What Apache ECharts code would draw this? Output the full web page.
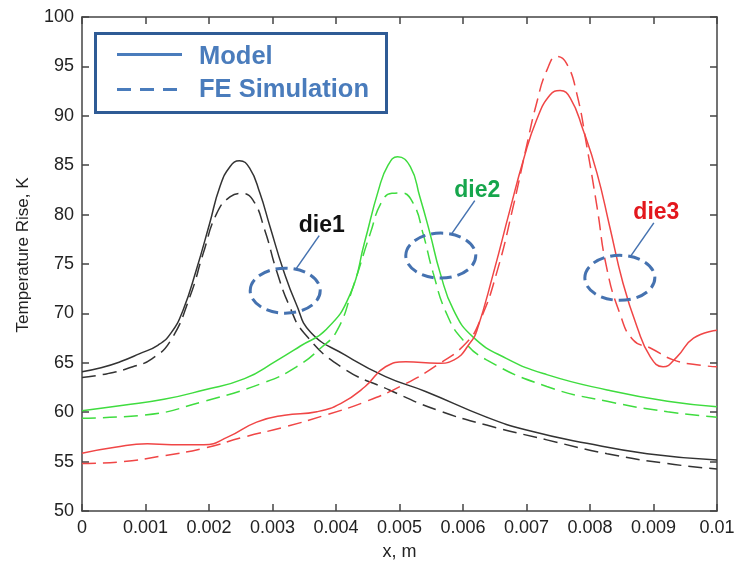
<!DOCTYPE html>
<html>
<head>
<meta charset="utf-8">
<script src="https://cdn.jsdelivr.net/npm/echarts@6/dist/echarts.min.js"></script>
<style>
  html, body { margin: 0; padding: 0; background: #fff; }
  #chart { width: 735px; height: 566px; }
</style>
</head>
<body>
<div id="chart"></div>
<script>
// Tick labels
const xTickLabels = ['0', '0.001', '0.002', '0.003', '0.004', '0.005', '0.006', '0.007', '0.008', '0.009', '0.01'];
const yTickLabels = ['50', '55', '60', '65', '70', '75', '80', '85', '90', '95', '100'];

// Temperature rise [x (m), K] — analytical model (solid) and FE simulation (dashed)
const die1Model = [
  [0, 64.1], [0.0003, 64.5], [0.0006, 65.1], [0.0009, 65.9], [0.0012, 66.8], [0.0014, 68.0],
  [0.00159, 70.3], [0.0018, 74.4], [0.00201, 79.1], [0.00217, 82.8], [0.00233, 84.85],
  [0.00248, 85.45], [0.00264, 84.7], [0.0028, 82.2], [0.00296, 78.8], [0.00317, 74.4],
  [0.00337, 71.0], [0.0036, 68.1], [0.00414, 65.8], [0.00478, 63.6], [0.00541, 62.1],
  [0.00637, 59.5], [0.007, 58.2], [0.00795, 56.85], [0.0089, 55.8], [0.01, 55.15]
];
const die1FE = [
  [0, 63.5], [0.0004, 63.9], [0.0008, 64.6], [0.0011, 65.4], [0.0014, 67.3],
  [0.0017, 71.7], [0.00191, 76.1], [0.00212, 80.1], [0.00233, 81.8], [0.00251, 82.15],
  [0.00269, 81.5], [0.00288, 78.4], [0.00306, 74.4], [0.00327, 70.7], [0.0035, 68.0],
  [0.00408, 64.6], [0.00484, 62.25], [0.0056, 60.2], [0.00637, 58.7], [0.00732, 57.2],
  [0.00827, 55.8], [0.00922, 54.8], [0.01, 54.25]
];
const die2Model = [
  [0, 60.15], [0.00065, 60.7], [0.00129, 61.3], [0.00192, 62.25], [0.00256, 63.4],
  [0.00306, 65.2], [0.00344, 66.7], [0.00385, 68.4], [0.00422, 71.9], [0.00445, 77.2],
  [0.00467, 82.5], [0.00482, 85.0], [0.00497, 85.85], [0.00517, 84.85], [0.00532, 81.8],
  [0.00548, 78.1], [0.00564, 74.1], [0.00585, 70.35], [0.00616, 67.6], [0.00668, 65.45],
  [0.00732, 63.8], [0.00827, 62.25], [0.00922, 61.1], [0.01, 60.55]
];
const die2FE = [
  [0, 59.4], [0.00097, 59.7], [0.00192, 61.1], [0.00287, 63.0], [0.00338, 64.6],
  [0.00376, 66.5], [0.00402, 68.3], [0.00427, 72.7], [0.00454, 78.1], [0.00472, 81.3],
  [0.00488, 82.15], [0.00503, 82.2], [0.00522, 81.1], [0.00537, 78.1], [0.00553, 74.1],
  [0.00574, 70.0], [0.006, 67.3], [0.00637, 65.3], [0.00732, 62.6], [0.00827, 61.1],
  [0.00922, 60.05], [0.01, 59.5]
];
const die3Model = [
  [0, 55.85], [0.00052, 56.45], [0.00103, 56.8], [0.00141, 56.7], [0.00192, 56.7],
  [0.0023, 57.5], [0.00275, 59.0], [0.00319, 59.7], [0.0037, 60.05], [0.00408, 60.9],
  [0.00446, 62.6], [0.00478, 64.6], [0.0051, 65.1], [0.0056, 64.95], [0.00586, 65.3],
  [0.00611, 67.0], [0.00622, 68.3], [0.00648, 74.1], [0.00674, 80.5], [0.00695, 85.5],
  [0.00716, 89.6], [0.00737, 92.1], [0.00753, 92.55], [0.00769, 91.8], [0.00789, 88.6],
  [0.00811, 84.2], [0.00831, 78.8], [0.00852, 73.05], [0.00874, 68.65], [0.00895, 65.6],
  [0.00915, 64.6], [0.00937, 65.6], [0.00963, 67.5], [0.01, 68.3]
];
const die3FE = [
  [0, 54.8], [0.00065, 55.0], [0.00129, 55.6], [0.00192, 56.35], [0.00256, 57.5],
  [0.00319, 58.5], [0.00383, 59.7], [0.00446, 61.05], [0.0051, 62.9], [0.0056, 64.8],
  [0.00605, 67.0], [0.00627, 69.3], [0.00653, 74.1], [0.00679, 80.8], [0.007, 86.9],
  [0.00716, 91.3], [0.00732, 94.6], [0.00748, 96.0], [0.00763, 95.3], [0.00779, 92.3],
  [0.00795, 86.9], [0.00811, 80.8], [0.00826, 74.7], [0.00847, 70.0], [0.00868, 67.3],
  [0.00895, 66.5], [0.00931, 65.3], [0.00968, 64.8], [0.01, 64.6]
];

// Die callouts: name, colour, ellipse centre in data units
const dieNames = ['die1', 'die2', 'die3'];
const dieColors = ['#111111', '#16a64c', '#e3171d'];
const dieCentres = [[0.0032, 72.3], [0.00565, 75.85], [0.00847, 73.6]];

const FONT = '"Liberation Sans", Arial, Helvetica, sans-serif';
const LINE_COLORS = { die1: '#333333', die2: '#3fdc3f', die3: '#f04646' };
const DASH = [14, 7];

const chart = echarts.init(document.getElementById('chart'), null, { renderer: 'canvas' });

const axisLineStyle = { color: '#444', width: 1.5 };
function xAxisCfg(pos, withLabels) {
  return {
    type: 'value', position: pos, min: 0, max: 0.01, interval: 0.001,
    axisLine: { show: true, onZero: false, lineStyle: axisLineStyle },
    axisTick: { show: true, inside: true, length: 7, lineStyle: axisLineStyle },
    axisLabel: withLabels ? {
      show: true, margin: 8, fontSize: 18, color: '#222', fontFamily: FONT,
      formatter: v => xTickLabels[Math.round(v / 0.001)]
    } : { show: false },
    splitLine: { show: false },
    name: withLabels ? 'x, m' : '',
    nameLocation: 'middle', nameGap: 32,
    nameTextStyle: { fontSize: 18, color: '#222', fontFamily: FONT }
  };
}
function yAxisCfg(pos, withLabels) {
  return {
    type: 'value', position: pos, min: 50, max: 100, interval: 5,
    axisLine: { show: true, onZero: false, lineStyle: axisLineStyle },
    axisTick: { show: true, inside: true, length: 7, lineStyle: axisLineStyle },
    axisLabel: withLabels ? {
      show: true, margin: 8, fontSize: 18, color: '#222', fontFamily: FONT,
      formatter: v => yTickLabels[Math.round((v - 50) / 5)]
    } : { show: false },
    splitLine: { show: false },
    name: withLabels ? 'Temperature Rise, K' : '',
    nameLocation: 'middle', nameGap: 50,
    nameTextStyle: { fontSize: 17, color: '#222', fontFamily: FONT, padding: [0, 0, 0, 18] }
  };
}

function lineSeries(name, data, color, dashed) {
  return {
    name, type: 'line', data, xAxisIndex: 0, yAxisIndex: 0,
    symbol: 'none', smooth: 0.5, silent: true,
    lineStyle: { color, width: 1.5, type: dashed ? DASH : 'solid' }
  };
}

chart.setOption({
  animation: false,
  backgroundColor: '#fff',
  grid: { left: 82, right: 18, top: 17, bottom: 55, outerBoundsMode: 'none' },
  xAxis: [xAxisCfg('bottom', true), xAxisCfg('top', false)],
  yAxis: [yAxisCfg('left', true), yAxisCfg('right', false)],
  series: [
    lineSeries('die1 Model', die1Model, LINE_COLORS.die1, false),
    lineSeries('die1 FE', die1FE, LINE_COLORS.die1, true),
    lineSeries('die2 Model', die2Model, LINE_COLORS.die2, false),
    lineSeries('die2 FE', die2FE, LINE_COLORS.die2, true),
    lineSeries('die3 Model', die3Model, LINE_COLORS.die3, false),
    lineSeries('die3 FE', die3FE, LINE_COLORS.die3, true)
  ]
});

// Legend box and die callouts drawn as graphic elements
const LEGEND_BLUE = '#4a7cbc';
const CALLOUT_BLUE = '#4572b0';
const graphics = [
  { type: 'rect', z: 10, shape: { x: 95.5, y: 33.5, width: 291, height: 79 },
    style: { fill: '#fff', stroke: '#2f5b95', lineWidth: 3 } },
  { type: 'line', z: 11, shape: { x1: 117, y1: 54.5, x2: 182, y2: 54.5 },
    style: { stroke: LEGEND_BLUE, lineWidth: 3 } },
  { type: 'line', z: 11, shape: { x1: 117, y1: 89.5, x2: 182, y2: 89.5 },
    style: { stroke: LEGEND_BLUE, lineWidth: 3, lineDash: [14, 9] } },
  { type: 'text', z: 11, style: { text: 'Model', x: 199, y: 57, align: 'left', verticalAlign: 'middle',
    fill: LEGEND_BLUE, font: 'bold 25.5px ' + FONT } },
  { type: 'text', z: 11, style: { text: 'FE Simulation', x: 199, y: 90, align: 'left', verticalAlign: 'middle',
    fill: LEGEND_BLUE, font: 'bold 25.5px ' + FONT } }
];

dieNames.forEach((name, i) => {
  const [cx, cy] = chart.convertToPixel({ xAxisIndex: 0, yAxisIndex: 0 }, dieCentres[i]);
  graphics.push(
    { type: 'ellipse', z: 12, shape: { cx, cy, rx: 35, ry: 22.5 },
      style: { fill: 'none', stroke: CALLOUT_BLUE, lineWidth: 3, lineDash: [12, 6] } },
    { type: 'line', z: 12, shape: { x1: cx + 11, y1: cy - 22, x2: cx + 34, y2: cy - 55 },
      style: { stroke: CALLOUT_BLUE, lineWidth: 1.5 } },
    { type: 'text', z: 12, style: { text: name, x: cx + 36.5, y: cy - 65, align: 'center',
      verticalAlign: 'middle', fill: dieColors[i], font: 'bold 23px ' + FONT } }
  );
});

chart.setOption({ graphic: graphics });
</script>
</body>
</html>
